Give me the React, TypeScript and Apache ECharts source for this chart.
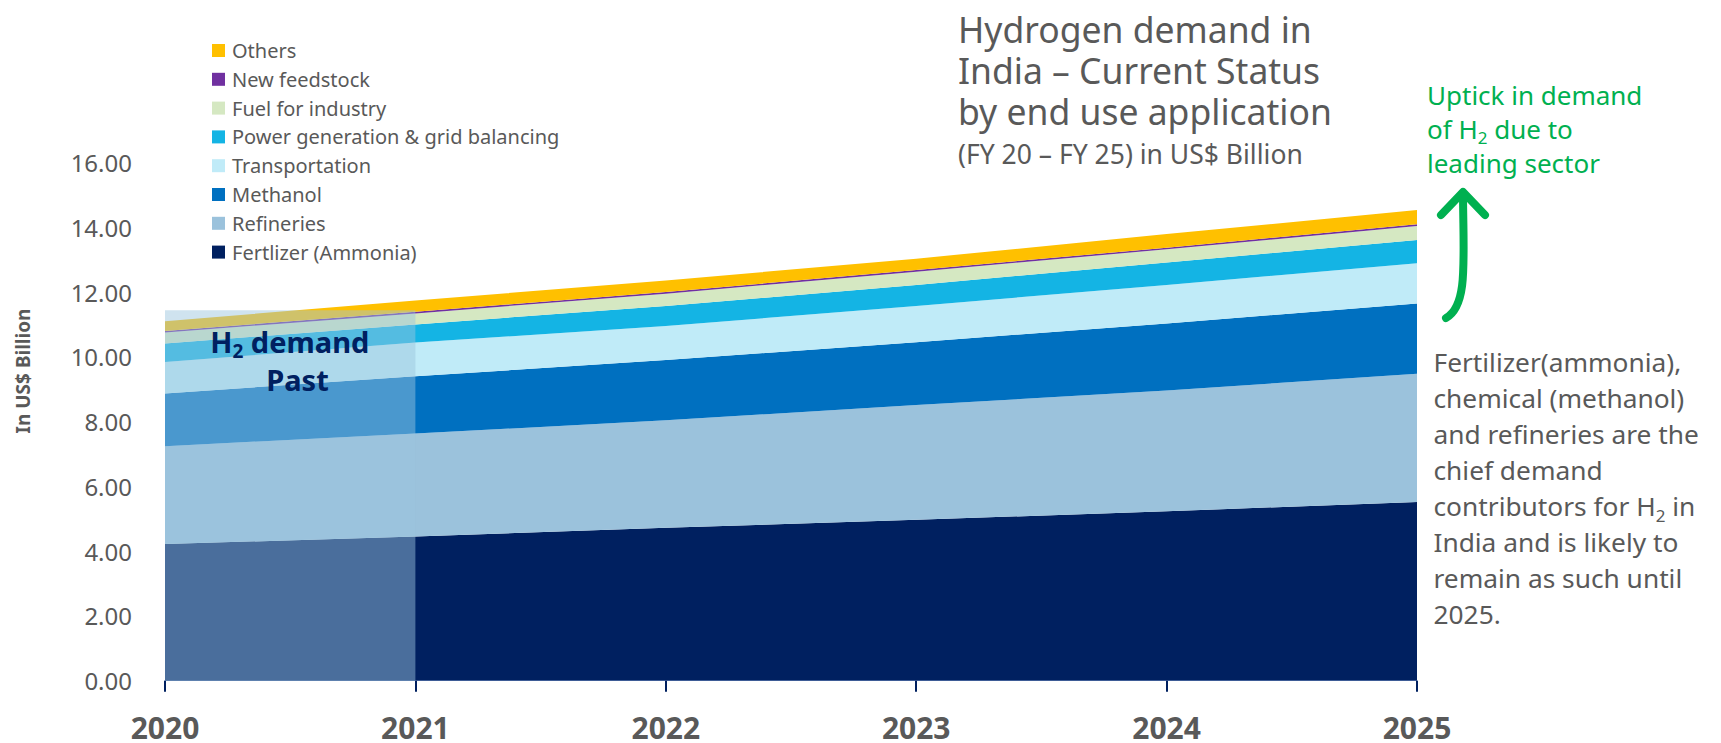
import React, { useEffect, useRef } from 'react';
import * as echarts from 'echarts';

const YEARS = ['2020', '2021', '2022', '2023', '2024', '2025'];
const FERTILIZER = [4.22, 4.45, 4.72, 4.97, 5.23, 5.52];
const REFINERIES = [3.02, 3.18, 3.32, 3.54, 3.73, 3.96];
const METHANOL = [1.63, 1.77, 1.86, 1.94, 2.07, 2.17];
const TRANSPORTATION = [0.97, 1.04, 1.05, 1.12, 1.19, 1.24];
const POWER = [0.57, 0.56, 0.62, 0.65, 0.69, 0.72];
const FUEL = [0.34, 0.34, 0.38, 0.41, 0.41, 0.43];
const FEEDSTOCK = [0.05, 0.05, 0.05, 0.05, 0.05, 0.05];
const OTHERS = [0.3, 0.35, 0.36, 0.35, 0.42, 0.44];
const PAST_TOP = 11.44; // top of the "past" shaded block (2020–2021)

const LEGEND_ORDER = [
  'Others',
  'New feedstock',
  'Fuel for industry',
  'Power generation & grid balancing',
  'Transportation',
  'Methanol',
  'Refineries',
  'Fertlizer (Ammonia)',
];

const FONT = '"Noto Sans", "Open Sans", sans-serif';
const GREY = '#595959';
const GREEN = '#00B050';
const NAVY = '#002060';

function area(name: string, data: number[], color: string) {
  return {
    name,
    type: 'line',
    stack: 'total',
    data,
    symbol: 'none',
    smooth: false,
    lineStyle: { width: 0, color },
    itemStyle: { color },
    areaStyle: { color, opacity: 1 },
    silent: true,
  };
}

export default function App() {
  const ref = useRef<HTMLDivElement>(null);
  useEffect(() => {
    const chart = echarts.init(ref.current!, null, { renderer: 'svg' });
    const option: any = {
      animation: false,
      backgroundColor: '#ffffff',
      textStyle: { fontFamily: FONT },
      grid: { left: 165, right: 304, top: 162.5, bottom: 62.3, containLabel: false },
      legend: {
        orient: 'vertical',
        left: 212,
        top: 40.5,
        padding: 0,
        itemWidth: 13,
        itemHeight: 13,
        itemGap: 8.8,
        icon: 'rect',
        selectedMode: false,
        data: LEGEND_ORDER,
        textStyle: { fontSize: 20, lineHeight: 20, color: GREY, fontFamily: FONT, padding: [0, 0, 0, 2] },
      },
      xAxis: {
        type: 'category',
        data: YEARS,
        boundaryGap: false,
        axisLine: { show: true, lineStyle: { color: '#8FAADC', width: 1 } },
        axisTick: { show: true, alignWithLabel: true, length: 11, lineStyle: { color: NAVY, width: 2 } },
        axisLabel: { fontSize: 30, lineHeight: 30, fontWeight: 'bold', color: GREY, margin: 32, fontFamily: FONT },
        splitLine: { show: false },
      },
      yAxis: {
        type: 'value',
        min: 0,
        max: 16,
        interval: 2,
        axisLine: { show: false },
        axisTick: { show: false },
        splitLine: { show: false },
        axisLabel: {
          fontSize: 24,
          color: GREY,
          margin: 33,
          fontFamily: FONT,
          formatter: (v: number) => v.toFixed(2),
        },
      },
      series: [
        area('Fertlizer (Ammonia)', FERTILIZER, '#002060'),
        area('Refineries', REFINERIES, '#9BC2DC'),
        area('Methanol', METHANOL, '#0070C0'),
        area('Transportation', TRANSPORTATION, '#C0EBF8'),
        area('Power generation & grid balancing', POWER, '#14B4E4'),
        area('Fuel for industry', FUEL, '#D5E8C2'),
        area('New feedstock', FEEDSTOCK, '#7030A0'),
        area('Others', OTHERS, '#FFC000'),
        {
          name: 'past',
          type: 'custom',
          z: 10,
          silent: true,
          data: [[0, PAST_TOP]],
          renderItem: (params: any, api: any) => {
            const p0 = api.coord([0, 0]);
            const p1 = api.coord([1, api.value(1)]);
            return {
              type: 'rect',
              shape: { x: p0[0], y: p1[1], width: p1[0] - p0[0], height: p0[1] - p1[1] },
              style: { fill: 'rgba(155,196,222,0.48)' },
            };
          },
        },
      ],
      graphic: [
        {
          type: 'text',
          z: 100,
          x: 958,
          y: 8,
          style: {
            text: 'Hydrogen demand in\nIndia – Current Status\nby end use application',
            fontSize: 35.5,
            fontFamily: FONT,
            lineHeight: 41,
            fill: GREY,
            align: 'left',
            textAlign: 'left',
            verticalAlign: 'top',
            textVerticalAlign: 'top',
          },
        },
        {
          type: 'text',
          z: 100,
          x: 958,
          y: 154,
          style: {
            text: '(FY 20 – FY 25) in US$ Billion',
            fontSize: 26.5,
            fontFamily: FONT,
            fill: GREY,
            align: 'left',
            textAlign: 'left',
            verticalAlign: 'middle',
            textVerticalAlign: 'middle',
          },
        },
        {
          type: 'text',
          z: 100,
          x: 1427,
          y: 78,
          style: {
            text: 'Uptick in demand\nof H{sub|2} due to\nleading sector',
            fontSize: 26,
            fontFamily: FONT,
            lineHeight: 34,
            fill: GREEN,
            align: 'left',
            textAlign: 'left',
            verticalAlign: 'top',
            textVerticalAlign: 'top',
            rich: {
              sub: { fontSize: 17, lineHeight: 18, verticalAlign: 'bottom', fill: GREEN, fontFamily: FONT },
            },
          },
        },
        {
          type: 'text',
          z: 100,
          x: 1433.5,
          y: 344,
          style: {
            text:
              'Fertilizer(ammonia),\nchemical (methanol)\nand refineries are the\nchief demand\ncontributors for H{sub|2} in\nIndia and is likely to\nremain as such until\n2025.',
            fontSize: 26.3,
            fontFamily: FONT,
            lineHeight: 36,
            fill: GREY,
            align: 'left',
            textAlign: 'left',
            verticalAlign: 'top',
            textVerticalAlign: 'top',
            rich: {
              sub: { fontSize: 17, lineHeight: 19, verticalAlign: 'bottom', fill: GREY, fontFamily: FONT },
            },
          },
        },
        {
          type: 'text',
          z: 100,
          x: 289.8,
          y: 341,
          style: {
            text: 'H{sub|2} demand',
            fontSize: 29,
            fontWeight: 'bold',
            fontFamily: FONT,
            lineHeight: 38,
            fill: NAVY,
            align: 'center',
            textAlign: 'center',
            verticalAlign: 'middle',
            textVerticalAlign: 'middle',
            rich: {
              sub: { fontSize: 19, fontWeight: 'bold', lineHeight: 20, verticalAlign: 'bottom', fill: NAVY, fontFamily: FONT },
            },
          },
        },
        {
          type: 'text',
          z: 100,
          x: 297.5,
          y: 379,
          style: {
            text: 'Past',
            fontSize: 29,
            fontWeight: 'bold',
            fontFamily: FONT,
            fill: NAVY,
            align: 'center',
            textAlign: 'center',
            verticalAlign: 'middle',
            textVerticalAlign: 'middle',
          },
        },
        {
          type: 'text',
          z: 100,
          x: 23,
          y: 371,
          rotation: Math.PI / 2,
          style: {
            text: 'In US$ Billion',
            fontSize: 19,
            fontWeight: 'bold',
            fontFamily: FONT,
            fill: GREY,
            align: 'center',
            textAlign: 'center',
            verticalAlign: 'middle',
            textVerticalAlign: 'middle',
          },
        },
        {
          type: 'polyline',
          z: 100,
          shape: { points: [[1441, 215], [1463, 192], [1485, 215]] },
          style: { stroke: GREEN, lineWidth: 8, fill: 'none', lineCap: 'round', lineJoin: 'round' },
        },
        {
          type: 'bezierCurve',
          z: 100,
          shape: { x1: 1463, y1: 196, cpx1: 1463.5, cpy1: 262, cpx2: 1468, cpy2: 306, x2: 1446, y2: 318 },
          style: { stroke: GREEN, lineWidth: 8, fill: 'none', lineCap: 'round' },
        },
      ],
    };
    chart.setOption(option);
    return () => chart.dispose();
  }, []);
  return (
    <div
      ref={ref}
      style={{ position: 'fixed', left: 0, top: 0, width: 1721, height: 743, background: '#fff' }}
    />
  );
}
